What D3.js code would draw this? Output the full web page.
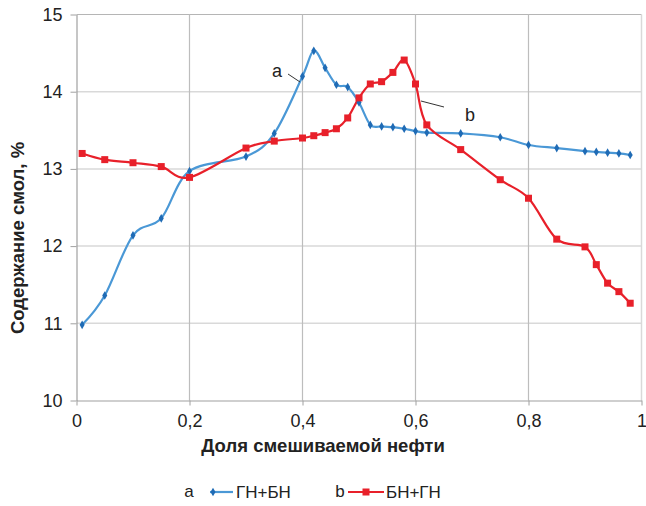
<!DOCTYPE html>
<html><head><meta charset="utf-8">
<script src="https://cdn.jsdelivr.net/npm/d3@7"></script>
<style>body{margin:0;background:#fff;} text{font-family:"Liberation Sans",Arial,sans-serif;}</style>
</head><body>
<svg id="c" width="646" height="506"></svg>
<script>
const xBlue = [0.01,0.05,0.1,0.15,0.2,0.3,0.35,0.4,0.42,0.44,0.46,0.48,0.5,0.52,0.54,0.56,0.58,0.6,0.62,0.68,0.75,0.8,0.85,0.9,0.92,0.94,0.96,0.98];
const yBlue = [10.98,11.36,12.14,12.36,12.97,13.16,13.46,14.2,14.53,14.31,14.09,14.06,13.86,13.57,13.55,13.54,13.52,13.49,13.47,13.46,13.41,13.31,13.27,13.23,13.22,13.21,13.2,13.18];
const xRed = [0.01,0.05,0.1,0.15,0.2,0.3,0.35,0.4,0.42,0.44,0.46,0.48,0.5,0.52,0.54,0.56,0.58,0.6,0.62,0.68,0.75,0.8,0.85,0.9,0.92,0.94,0.96,0.98];
const yRed = [13.2,13.12,13.08,13.03,12.89,13.27,13.36,13.4,13.43,13.47,13.52,13.66,13.92,14.1,14.13,14.25,14.41,14.1,13.57,13.25,12.86,12.62,12.09,11.99,11.76,11.52,11.41,11.26];
const xTicks = [0,0.2,0.4,0.6,0.8,1];
const xTickLabels = ["0","0,2","0,4","0,6","0,8","1"];
const yTicks = [10,11,12,13,14,15];
const yTickLabels = ["10","11","12","13","14","15"];
const seriesNames = ["ГН+БН","БН+ГН"];
const seriesTags = ["a","b"];
const xTitle = "Доля смешиваемой нефти";
const yTitle = "Содержание смол, %";

const svg = d3.select("#c");
const x = d3.scaleLinear().domain([0,1]).range([76.5,641.5]);
const y = d3.scaleLinear().domain([10,15]).range([400.5,14.5]);
const blueLine = "#4A98D6", blueMark = "#1F6BB5", red = "#E8202A";

// horizontal grid
svg.append("g").selectAll("line").data(yTicks.filter(v=>v>10&&v<15)).join("line")
  .attr("x1",x(0)).attr("x2",x(1)).attr("y1",d=>y(d)).attr("y2",d=>y(d))
  .attr("stroke","#d9d9d9").attr("stroke-width",1.5);
svg.append("line").attr("x1",x(0)).attr("x2",x(1)).attr("y1",y(15)).attr("y2",y(15))
  .attr("stroke","#b5b5b5").attr("stroke-width",1.2);
// vertical grid
svg.append("g").selectAll("line").data(xTicks.filter(v=>v>0&&v<1)).join("line")
  .attr("x1",d=>x(d)).attr("x2",d=>x(d)).attr("y1",y(15)).attr("y2",y(10))
  .attr("stroke","#bdbdbd").attr("stroke-width",1.2);
svg.append("line").attr("x1",x(1)).attr("x2",x(1)).attr("y1",y(15)).attr("y2",y(10))
  .attr("stroke","#d9d9d9").attr("stroke-width",1.5);

// axes
const xAxis = d3.axisBottom(x).tickValues(xTicks).tickFormat((d,i)=>xTickLabels[i]).tickSize(5).tickSizeOuter(0);
const gx = svg.append("g").attr("transform",`translate(0,${y(10)})`).call(xAxis);
gx.select(".domain").attr("stroke","#a0a0a0").attr("stroke-width",1.2);
gx.selectAll(".tick line").attr("stroke","#a0a0a0");
gx.selectAll(".tick text").attr("font-size",18).attr("fill","#222").attr("dy","1.05em")
  .attr("font-family","'Liberation Sans',Arial,sans-serif");
const yAxis = d3.axisLeft(y).tickValues(yTicks).tickFormat((d,i)=>yTickLabels[i]).tickSize(6).tickSizeOuter(0);
const gy = svg.append("g").attr("transform",`translate(${x(0)},0)`).call(yAxis);
gy.select(".domain").attr("stroke","#a0a0a0").attr("stroke-width",1.2);
gy.selectAll(".tick line").attr("stroke","#a0a0a0");
gy.selectAll(".tick text").attr("font-size",18).attr("fill","#222").attr("x",-14)
  .attr("font-family","'Liberation Sans',Arial,sans-serif");

// titles
svg.append("text").attr("x",323).attr("y",452).attr("text-anchor","middle")
  .attr("font-size",18.5).attr("font-weight","bold").attr("fill","#222").text(xTitle);
svg.append("text").attr("transform","translate(24,238) rotate(-90)").attr("text-anchor","middle")
  .attr("font-size",18.5).attr("font-weight","bold").attr("fill","#222").text(yTitle);

const curve = d3.curveCardinal.tension(0);
const line = d3.line().x(d=>x(d[0])).y(d=>y(d[1])).curve(curve);
const blueData = xBlue.map((v,i)=>[v,yBlue[i]]);
const redData = xRed.map((v,i)=>[v,yRed[i]]);

svg.append("path").datum(blueData).attr("d",line).attr("fill","none").attr("stroke",blueLine).attr("stroke-width",2.2);
svg.append("path").datum(redData).attr("d",line).attr("fill","none").attr("stroke",red).attr("stroke-width",2.2);

const diamond = d3.symbol().type(d3.symbolDiamond).size(22);
svg.append("g").selectAll("path").data(blueData).join("path")
  .attr("d",diamond).attr("transform",d=>`translate(${x(d[0])},${y(d[1])})`).attr("fill",blueMark);
svg.append("g").selectAll("rect").data(redData).join("rect")
  .attr("x",d=>x(d[0])-3.5).attr("y",d=>y(d[1])-3.5).attr("width",7).attr("height",7).attr("fill",red);

// annotation labels
const ann = [
  {t:seriesTags[0], tx:277, ty:77, x1:288, y1:74, x2:300, y2:82},
  {t:seriesTags[1], tx:470, ty:121, x1:421, y1:101, x2:444, y2:107}
];
ann.forEach(a=>{
  svg.append("line").attr("x1",a.x1).attr("y1",a.y1).attr("x2",a.x2).attr("y2",a.y2).attr("stroke","#333").attr("stroke-width",1);
  svg.append("text").attr("x",a.tx).attr("y",a.ty).attr("text-anchor","middle").attr("font-size",18).attr("fill","#222").text(a.t);
});

// legend
const lg = svg.append("g");
lg.append("text").attr("x",189).attr("y",497).attr("text-anchor","middle").attr("font-size",17).attr("fill","#222").text(seriesTags[0]);
lg.append("line").attr("x1",210).attr("x2",233).attr("y1",492).attr("y2",492).attr("stroke",blueLine).attr("stroke-width",2.2);
lg.append("path").attr("d",diamond).attr("transform","translate(213,492)").attr("fill",blueMark);
lg.append("text").attr("x",236).attr("y",498).attr("font-size",17).attr("fill","#222").text(seriesNames[0]);
lg.append("text").attr("x",340).attr("y",497).attr("text-anchor","middle").attr("font-size",17).attr("fill","#222").text(seriesTags[1]);
lg.append("line").attr("x1",348).attr("x2",384).attr("y1",492).attr("y2",492).attr("stroke",red).attr("stroke-width",2.2);
lg.append("rect").attr("x",362.5).attr("y",488.5).attr("width",7).attr("height",7).attr("fill",red);
lg.append("text").attr("x",386).attr("y",498).attr("font-size",17).attr("fill","#222").text(seriesNames[1]);
</script>
</body></html>
